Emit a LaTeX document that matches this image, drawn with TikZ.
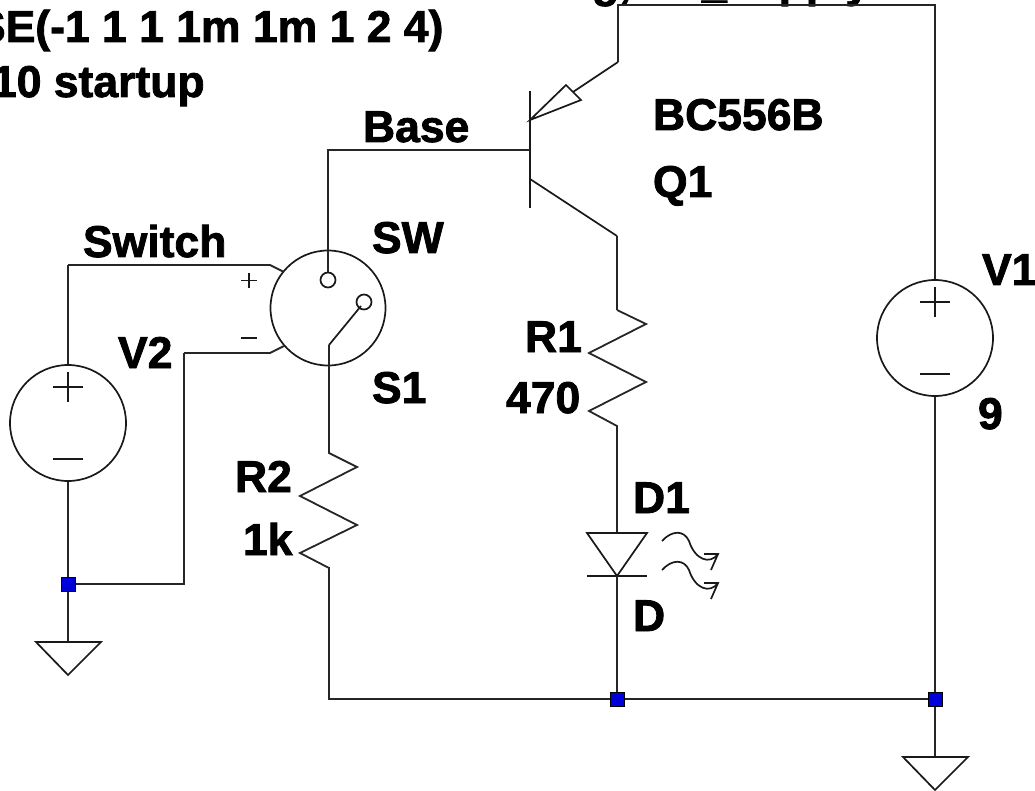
\documentclass[tikz,border=0pt]{standalone}
\usepackage{fontspec}
\setmainfont{Liberation Sans}[BoldFeatures={FakeBold=1.8}]
\begin{document}
\begin{tikzpicture}[x=1pt,y=-1pt,
  wire/.style={line width=1.8pt,black!85,line join=miter},
  sym/.style={line width=1.7pt,black!90},
  lab/.style={font=\fontsize{44.5}{44.5}\selectfont\bfseries,text=black,inner sep=0pt,outer sep=0pt,anchor=base west},
  junc/.style={fill=blue!85!black,draw=black,line width=.5pt,minimum size=14pt,inner sep=0pt,shape=rectangle}]
\useasboundingbox (0,0) rectangle (1035,791);
\begin{scope}
\clip (0,0) rectangle (1035,791);
\node[lab] (d0) at (592,-3) {g,};
\node[lab] (d00) at (702,-3) {\_supply};
\node[lab] (d1) at (-24,42) {SE(-1 1 1 1m 1m 1 2 4)};
\node[lab] (d2) at (-8,97) {10 startup};
\node[lab] (base) at (363,142) {Base};
\node[lab] (bc) at (653,130) {BC556B};
\node[lab] (q1) at (653,197) {Q1};
\node[lab] (swl) at (372,253) {SW};
\node[lab] (sl) at (372,403) {S1};
\node[lab] (sw) at (83,257) {Switch};
\node[lab] (v2l) at (118,368) {V2};
\node[lab] (r1l) at (525,352) {R1};
\node[lab] (r1v) at (506,413) {470};
\node[lab] (r2l) at (235,492) {R2};
\node[lab] (r2v) at (243,555) {1k};
\node[lab] (d1l) at (633,513) {D1};
\node[lab] (dl) at (633,631) {D};
\node[lab] (v1l) at (982,285) {V1};
\node[lab] (v1v) at (978,429) {9};
\end{scope}
% coordinates
\coordinate (top) at (618,5);
\coordinate (topr) at (935,5);
\coordinate (jr) at (935,699);
\coordinate (jm) at (617,699);
\coordinate (jl) at (68,584);
% V1
\node[circle,draw,sym,minimum size=116pt,inner sep=0pt] (V1) at (935,338) {};
\draw[sym] (920,302)--(950,302) (935,287)--(935,317) (920,374)--(950,374);
\draw[wire] (618,62)--(top)--(topr)--(V1.north);
\draw[wire] (V1.south)--(jr);
\draw[wire] (jr)--(jm)--(329,699)--(329,567);
% ground right
\draw[wire] (jr)--(935,757);
\draw[sym] (903,757)--(968,757)--(935,790)--cycle;
% Transistor
\draw[sym] (530,91)--(530,208);
\node[circle,draw,sym,minimum size=115pt,inner sep=0pt] (SW) at (328,308) {};
\node[circle,draw,sym,minimum size=15pt,inner sep=0pt] (c1) at (328,280) {};
\node[circle,draw,sym,minimum size=15pt,inner sep=0pt] (c2) at (364,302) {};
\draw[wire] (c1.north)--(328,150)--(530,150);
\draw[sym] (618,62)--(573,92);
\draw[sym] (530,120)--(566,85)--(581,100)--cycle;
\draw[sym] (530,179)--(617,236);
\draw[wire] (617,236)--(617,310);
% R1
\draw[wire] (617,310)--(646,324)--(589,353)--(646,382)--(589,411)--(617,426)--(617,533);
% D1
\draw[sym] (587,533)--(647,533)--(617,576)--cycle;
\draw[sym] (587,576)--(647,576);
\draw[wire] (617,576)--(jm);
\draw[sym] (662,541) .. controls (672,530) and (684,530) .. (689,541) .. controls (695,560) and (710,565) .. (718,554);
\draw[sym] (704,554)--(718,554)--(711,570);
\draw[sym] (662,570) .. controls (672,559) and (684,559) .. (689,570) .. controls (695,589) and (710,594) .. (718,583);
\draw[sym] (704,583)--(718,583)--(711,599);
% R2
\draw[wire] (329,345)--(329,453)--(357,467)--(300,496)--(357,525)--(300,553)--(329,568)--(329,699);
% Switch
\draw[sym] (329,345)--(361,306);
\draw[sym] (241,280.5)--(257,280.5) (249,273)--(249,288) (241,338)--(257,338);
\draw[wire] (68,265)--(270,265)--(284,272);
\draw[wire] (184,353)--(270,353)--(284,346);
% V2
\node[circle,draw,sym,minimum size=116pt,inner sep=0pt] (V2) at (68,423) {};
\draw[sym] (53,387)--(83,387) (68,372)--(68,402) (53,459)--(83,459);
\draw[wire] (V2.north)--(68,265);
\draw[wire] (V2.south)--(jl);
\draw[wire] (jl)--(184,584)--(184,353);
\draw[wire] (jl)--(68,642);
\draw[sym] (36,642)--(101,642)--(68,675)--cycle;
% junctions
\node[junc] (J1) at (jl) {};
\node[junc] (J2) at (jm) {};
\node[junc] (J3) at (jr) {};
\end{tikzpicture}
\end{document}
